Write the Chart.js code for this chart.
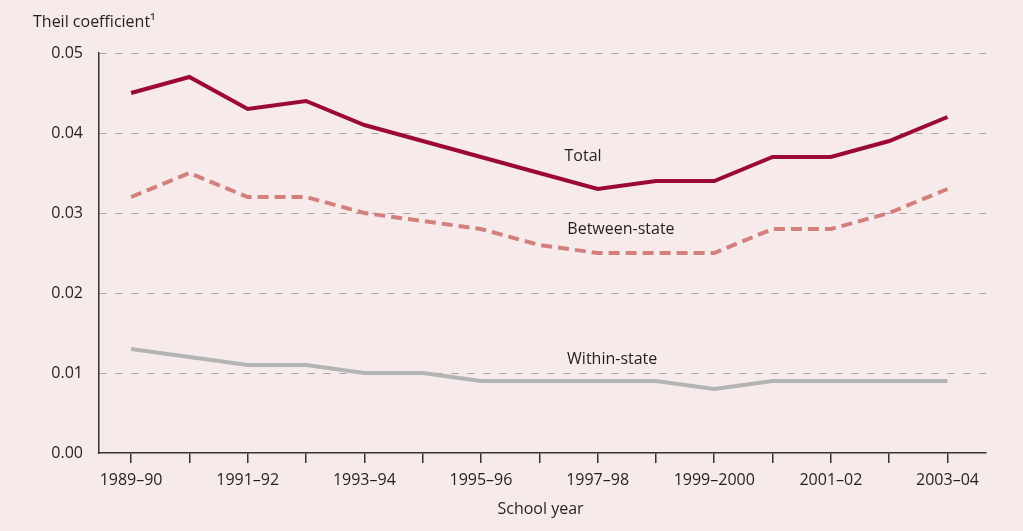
<!DOCTYPE html>
<html>
<head>
<meta charset="utf-8">
<script src="https://cdn.jsdelivr.net/npm/chart.js@4.4.1/dist/chart.umd.min.js"></script>
<style>
  body { margin: 0; background: #f6eaea; }
  #wrap { width: 1023px; height: 531px; }
</style>
</head>
<body>
<div id="wrap"><canvas id="chart"></canvas></div>
<script>
const years = ['1989–90', '1990–91', '1991–92', '1992–93', '1993–94', '1994–95', '1995–96', '1996–97',
  '1997–98', '1998–99', '1999–2000', '2000–01', '2001–02', '2002–03', '2003–04'];
const total = [0.045, 0.047, 0.043, 0.044, 0.041, 0.039, 0.037, 0.035, 0.033, 0.034, 0.034, 0.037, 0.037, 0.039, 0.042];
const betweenState = [0.032, 0.035, 0.032, 0.032, 0.030, 0.029, 0.028, 0.026, 0.025, 0.025, 0.025, 0.028, 0.028, 0.030, 0.033];
const withinState = [0.013, 0.012, 0.011, 0.011, 0.010, 0.010, 0.009, 0.009, 0.009, 0.009, 0.008, 0.009, 0.009, 0.009, 0.009];
const yTicks = [0, 0.01, 0.02, 0.03, 0.04, 0.05];

const font = '"Open Sans", "Noto Sans", sans-serif';
const textColor = '#231f20';

const toPoints = arr => arr.map((v, i) => ({ x: i, y: v }));

// series names written next to the lines, plus the axis titles
const seriesLabels = [
  { text: 'Total', x: 7.75, y: 0.0371 },
  { text: 'Between-state', x: 8.4, y: 0.028 },
  { text: 'Within-state', x: 8.25, y: 0.01175 }
];

const textPlugin = {
  id: 'texts',
  afterDraw(chart) {
    const { ctx, scales: { x, y } } = chart;
    ctx.save();
    ctx.fillStyle = textColor;
    ctx.font = '16px ' + font;
    ctx.textBaseline = 'middle';
    ctx.textAlign = 'center';
    seriesLabels.forEach(l => {
      ctx.fillText(l.text, x.getPixelForValue(l.x), y.getPixelForValue(l.y));
    });
    ctx.fillText('School year', (x.left + x.right) / 2 - 2, 509);
    ctx.textAlign = 'left';
    ctx.fillText('Theil coefficient¹', 33, 22);
    ctx.restore();
  }
};

const ctx = document.getElementById('chart');

new Chart(ctx, {
  type: 'line',
  data: {
    datasets: [
      {
        label: 'Total',
        data: toPoints(total),
        borderColor: '#9b0a36',
        borderWidth: 4,
        pointRadius: 0,
        tension: 0
      },
      {
        label: 'Between-state',
        data: toPoints(betweenState),
        borderColor: '#d27f7d',
        borderWidth: 4,
        borderDash: [11, 6],
        pointRadius: 0,
        tension: 0
      },
      {
        label: 'Within-state',
        data: toPoints(withinState),
        borderColor: '#b4b4b4',
        borderWidth: 4,
        pointRadius: 0,
        tension: 0
      }
    ]
  },
  plugins: [textPlugin],
  options: {
    responsive: true,
    maintainAspectRatio: false,
    animation: false,
    layout: { padding: { left: 0, top: 53, right: 37, bottom: 0 } },
    plugins: {
      legend: { display: false },
      tooltip: { enabled: false }
    },
    scales: {
      x: {
        type: 'linear',
        min: -0.55,
        max: 14.66,
        afterBuildTicks: scale => { scale.ticks = years.map((_, i) => ({ value: i })); },
        afterFit: scale => { scale.height = 78; },
        ticks: {
          autoSkip: false,
          maxRotation: 0,
          padding: 8,
          color: textColor,
          font: { family: font, size: 16 },
          callback: (v) => (v % 2 === 0 ? years[v] : '')
        },
        grid: {
          drawOnChartArea: false,
          drawTicks: true,
          tickLength: 10,
          color: '#333333',
          lineWidth: 1.5
        },
        border: { display: true, color: '#333333', width: 1.5 }
      },
      y: {
        min: 0,
        max: 0.05,
        afterBuildTicks: scale => { scale.ticks = yTicks.map(v => ({ value: v })); },
        afterFit: scale => { scale.width = 99; },
        ticks: {
          padding: 16,
          color: textColor,
          font: { family: font, size: 16 },
          callback: v => v.toFixed(2)
        },
        grid: {
          drawTicks: false,
          color: c => (c.tick && c.tick.value === 0 ? 'rgba(0,0,0,0)' : '#a3a3a3'),
          lineWidth: 1
        },
        border: { display: true, color: '#333333', width: 1.5, dash: [7, 9] }
      }
    }
  }
});
</script>
</body>
</html>
